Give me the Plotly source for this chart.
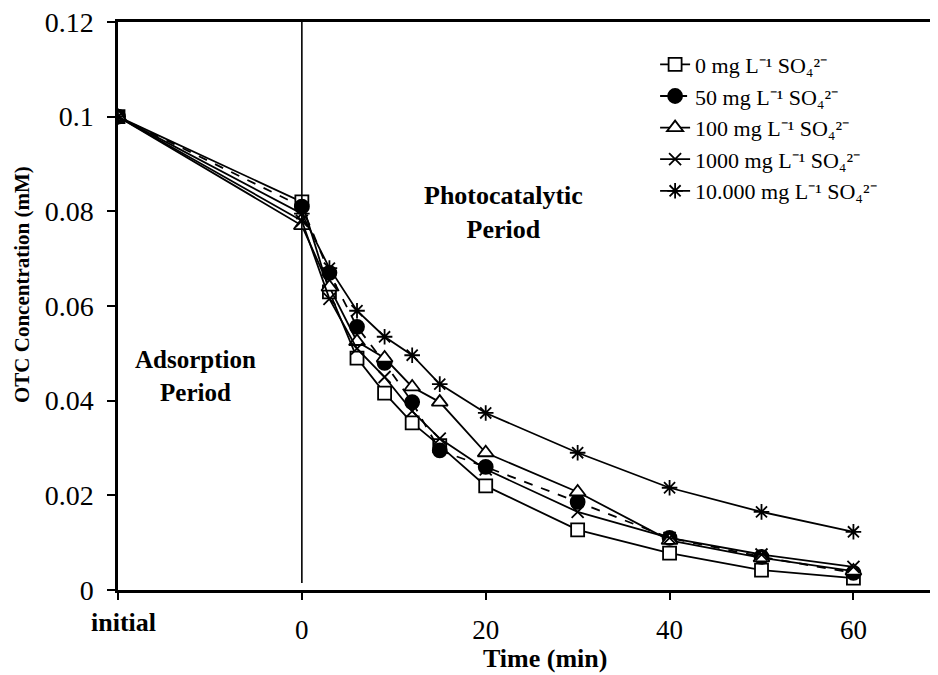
import plotly.graph_objects as go

# -20 is the "initial" slot drawn left of t = 0
times = [-20, 0, 3, 6, 9, 12, 15, 20, 30, 40, 50, 60]
c_0 = [0.1, 0.082, 0.063, 0.049, 0.0416, 0.0353, 0.0305, 0.022, 0.0127, 0.0078, 0.0042, 0.0025]
c_50 = [0.1, 0.081, 0.067, 0.0556, 0.048, 0.0397, 0.0295, 0.026, 0.0186, 0.011, 0.007, 0.0036]
c_100 = [0.1, 0.077, 0.064, 0.0525, 0.049, 0.0429, 0.0397, 0.029, 0.0207, 0.0105, 0.0068, 0.004]
c_1000 = [0.1, 0.078, 0.0615, 0.051, 0.045, 0.0378, 0.032, 0.0255, 0.0165, 0.011, 0.0075, 0.0049]
c_10000 = [0.1, 0.0795, 0.068, 0.059, 0.0535, 0.0496, 0.0435, 0.0374, 0.029, 0.0216, 0.0165, 0.0123]

names = ['0 mg L⁻¹ SO₄²⁻', '50 mg L⁻¹ SO₄²⁻', '100 mg L⁻¹ SO₄²⁻',
         '1000 mg L⁻¹ SO₄²⁻', '10.000 mg L⁻¹ SO₄²⁻']
series = [c_0, c_50, c_100, c_1000, c_10000]

x_tickvals = [-20, 0, 20, 40, 60]
x_ticktext = ['', '0', '20', '40', '60']
y_tickvals = [0, 0.02, 0.04, 0.06, 0.08, 0.1, 0.12]
y_ticktext = ['0', '0.02', '0.04', '0.06', '0.08', '0.1', '0.12']

styles = [
    dict(symbol='square', color='white', size=13, dash='solid'),
    dict(symbol='circle', color='black', size=14, dash='dash'),
    dict(symbol='triangle-up', color='white', size=14, dash='solid'),
    dict(symbol='x-thin', color='black', size=12, dash='solid'),
    dict(symbol='asterisk', color='black', size=13, dash='solid'),
]

FONT = 'Liberation Serif'
# page body has an 8px margin, so the figure is shrunk by that much
W, H = 930, 667
L, T, B = 110, 14, 85


def px_x(v):
    return (v - 118) / 820


def px_y(v):
    return (590 - v) / 568


fig = go.Figure()
for name, vals, st in zip(names, series, styles):
    fig.add_trace(go.Scatter(x=times, y=vals, name=name, mode='lines+markers',
                             line=dict(color='black', width=1.8, dash=st['dash']),
                             marker=dict(symbol=st['symbol'], size=st['size'], color=st['color'],
                                         line=dict(color='black', width=1.8))))

fig.add_shape(type='line', x0=0, x1=0, y0=0.0015, y1=0.12, xref='x', yref='y',
              line=dict(color='black', width=1.6))

labels = [
    ('Photocatalytic<br>Period', 503, 212, 26, 0),
    ('Adsorption<br>Period', 195, 376, 25, 0),
    ('initial', 123, 622, 26, 0),
    ('Time (min)', 545, 658, 26, 0),
    ('OTC Concentration (mM)', 22, 285, 21, -90),
]
for text, ax, ay, size, ang in labels:
    fig.add_annotation(text=text, x=px_x(ax), y=px_y(ay), xref='paper', yref='paper',
                       xanchor='center', yanchor='middle', showarrow=False, textangle=ang,
                       font=dict(family=FONT, size=size, color='black', weight='bold'))

fig.update_layout(width=W, height=H,
                  margin=dict(l=L, r=0, t=T, b=B),
                  plot_bgcolor='white', paper_bgcolor='white',
                  font=dict(family=FONT, size=24, color='black'),
                  hovermode=False,
                  legend=dict(x=0.655, y=0.962, xanchor='left', yanchor='top',
                              bgcolor='rgba(0,0,0,0)', font=dict(family=FONT, size=22),
                              tracegroupgap=0, itemwidth=30),
                  xaxis=dict(range=[-20, 69.2], tickvals=x_tickvals, ticktext=x_ticktext,
                             ticks='outside', ticklen=7, tickwidth=1.5, tickcolor='black',
                             showline=True, linecolor='black', linewidth=2.5, mirror=True,
                             showgrid=False, zeroline=False, ticklabelstandoff=7,
                             tickfont=dict(family=FONT, size=27)),
                  yaxis=dict(range=[0, 0.12], tickvals=y_tickvals, ticktext=y_ticktext,
                             ticks='outside', ticklen=8, tickwidth=1.5, tickcolor='black',
                             showline=True, linecolor='black', linewidth=2.5,
                             showgrid=False, zeroline=False, ticklabelstandoff=8,
                             ticklabeloverflow='allow',
                             tickfont=dict(family=FONT, size=28)))

fig.write_html("out.html")
